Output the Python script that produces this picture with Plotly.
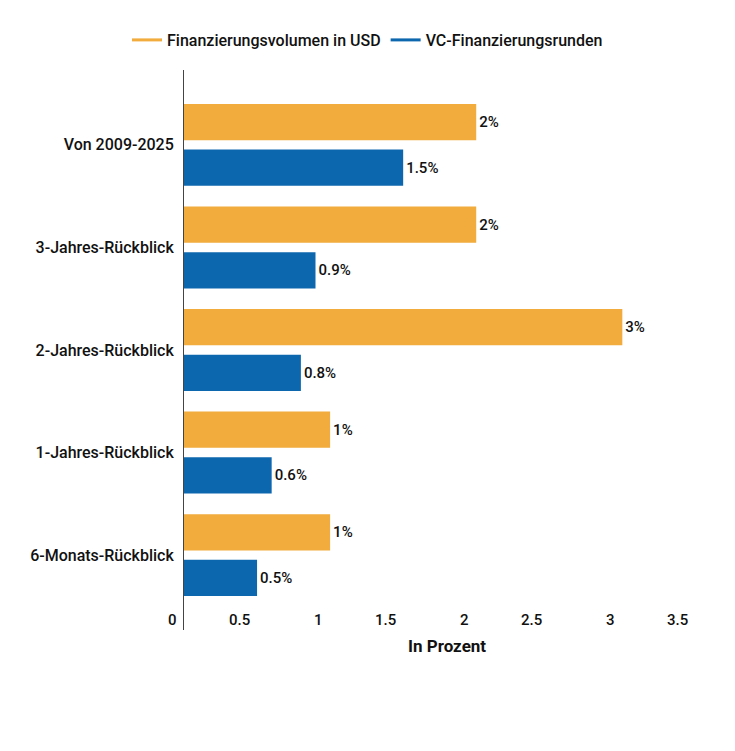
import plotly.graph_objects as go

categories = ["Von 2009-2025", "3-Jahres-Rückblick", "2-Jahres-Rückblick",
              "1-Jahres-Rückblick", "6-Monats-Rückblick"]
volumen_usd = [2, 2, 3, 1, 1]
vc_runden = [1.5, 0.9, 0.8, 0.6, 0.5]
series_names = ["Finanzierungsvolumen in USD", "VC-Finanzierungsrunden"]
x_ticks = [0, 0.5, 1, 1.5, 2, 2.5, 3, 3.5]
x_tick_labels = ["0", "0.5", "1", "1.5", "2", "2.5", "3", "3.5"]

ORANGE = "#F2AB3D"
BLUE = "#0C67AE"
FONT = "Roboto"
TXT = "#111"
OFF = 8  # page body margin compensation

fig = go.Figure()
for vals, name, col in [(volumen_usd, series_names[0], ORANGE),
                        (vc_runden, series_names[1], BLUE)]:
    fig.add_trace(go.Bar(
        y=categories, x=vals, orientation="h", name=name,
        marker=dict(color=col, line=dict(width=0)),
        texttemplate="%{x}%", textposition="outside",
        textfont=dict(family=FONT, size=15, color=TXT, weight=500),
        cliponaxis=False, showlegend=False,
    ))
    fig.add_trace(go.Scatter(
        x=[None], y=[None], mode="lines", name=name,
        line=dict(color=col, width=3), showlegend=True,
    ))

annotations = []
for v, t in zip(x_ticks, x_tick_labels):
    annotations.append(dict(
        x=v, xref="x", y=0, yref="paper", text=t, showarrow=False,
        xanchor="right", yanchor="middle", xshift=-5, yshift=10,
        font=dict(family=FONT, size=15, color=TXT, weight=500),
    ))
annotations.append(dict(
    x=0.5, xref="paper", y=0, yref="paper", text="<b>In Prozent</b>",
    showarrow=False, xanchor="center", yanchor="middle", yshift=-16,
    font=dict(family=FONT, size=17, color=TXT),
))

fig.update_layout(
    width=735, height=751,
    margin=dict(l=184 - OFF, r=25 + OFF, t=70 - OFF, b=121 + OFF),
    paper_bgcolor="white", plot_bgcolor="white",
    barmode="group", bargap=0.109, bargroupgap=0.206,
    font=dict(family=FONT, size=15, color=TXT),
    legend=dict(
        orientation="h", xref="container", yref="container",
        x=(367.5 - OFF) / 735, xanchor="center", y=1 - (40 - OFF) / 751,
        yanchor="middle",
        font=dict(family=FONT, size=16, color=TXT, weight=500),
        itemwidth=30, traceorder="normal",
    ),
    xaxis=dict(
        range=[0, 3.6], showgrid=False, zeroline=False, showline=False,
        showticklabels=False, ticks="",
    ),
    yaxis=dict(
        type="category", categoryorder="array", categoryarray=categories,
        range=[4.73, -0.73], showgrid=False, zeroline=False,
        showline=True, linecolor="#444", linewidth=1,
        ticks="outside", ticklen=6, tickcolor="rgba(0,0,0,0)",
        tickfont=dict(family=FONT, size=16, color=TXT, weight=500),
    ),
    annotations=annotations,
)

fig.write_html("out.html")
